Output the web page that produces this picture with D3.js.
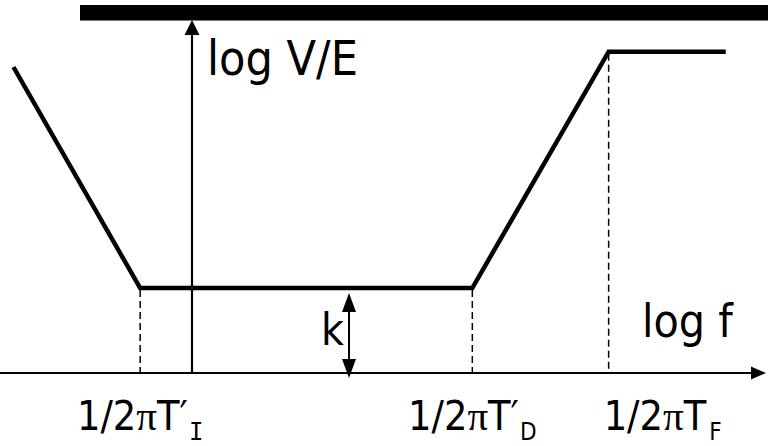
<!DOCTYPE html>
<html>
<head>
<meta charset="utf-8">
<script src="https://cdn.jsdelivr.net/npm/d3@7"></script>
<style>
  html, body { margin: 0; padding: 0; background: #fff; }
  svg { display: block; }
  text { font-family: "DejaVu Sans Condensed", "DejaVu Sans", sans-serif; font-stretch: condensed; fill: #000; }
</style>
</head>
<body>
<svg id="chart" width="768" height="446"></svg>
<script>
// Asymptotic magnitude curve of a PID controller (log V/E against log f)
const curveLogF  = [-0.93, -0.27, 1.46, 2.17, 2.78];
const curveLogVE = [3.60, 1.00, 1.00, 3.78, 3.78];

// Corner frequencies marked on the frequency axis
const cornerLogF   = [-0.27, 1.46, 2.17];
const cornerMain   = ["1/2", "1/2", "1/2"];
const cornerSymbol = ["T\u2032", "T\u2032", "T"];
const cornerSub    = ["I", "D", "F"];

const gainLevel = 1.0;   // k
const gainLabel = "k";
const yAxisLabel = "log V/E";
const xAxisLabel = "log f";

const svg = d3.select("#chart");
const W = 768, H = 446;

const x = d3.scaleLinear().domain([-1, 3]).range([0, W]);
const y = d3.scaleLinear().domain([0, 1]).range([373, 288]);

// header bar
svg.append("rect").attr("x", 80).attr("y", 5).attr("width", W - 80).attr("height", 15.5).attr("fill", "#000");

// frequency axis with arrow
const y0 = y(0);
svg.append("line").attr("x1", 0).attr("x2", 754).attr("y1", y0).attr("y2", y0)
  .attr("stroke", "#000").attr("stroke-width", 2.2);
svg.append("path").attr("d", `M766,${y0} L751,${y0 - 6.5} L751,${y0 + 6.5} Z`).attr("fill", "#000");

// magnitude axis with arrow
const x0 = x(0);
svg.append("line").attr("x1", x0).attr("x2", x0).attr("y1", y0).attr("y2", 32)
  .attr("stroke", "#000").attr("stroke-width", 2.2);
svg.append("path").attr("d", `M${x0},20 L${x0 - 7.5},35 L${x0 + 7.5},35 Z`).attr("fill", "#000");

// dashed drop lines from the corners
svg.selectAll("line.drop").data(cornerLogF).join("line").attr("class", "drop")
  .attr("x1", d => x(d)).attr("x2", d => x(d))
  .attr("y1", (d, i) => y(i === 2 ? curveLogVE[3] : gainLevel) + 2)
  .attr("y2", y0)
  .attr("stroke", "#000").attr("stroke-width", 1.5).attr("stroke-dasharray", "7,4");

// asymptotic curve
const line = d3.line().x(d => x(d[0])).y(d => y(d[1]));
svg.append("path").datum(d3.zip(curveLogF, curveLogVE)).attr("d", line)
  .attr("fill", "none").attr("stroke", "#000").attr("stroke-width", 4.5)
  .attr("stroke-linejoin", "miter").attr("stroke-linecap", "butt");

// k double arrow
const kx = 349;
const kTop = y(gainLevel) + 5, kBot = y0 + 5;
svg.append("line").attr("x1", kx).attr("x2", kx).attr("y1", kTop + 15).attr("y2", kBot - 15)
  .attr("stroke", "#000").attr("stroke-width", 2);
svg.append("path").attr("d", `M${kx},${kTop} L${kx - 7},${kTop + 19} L${kx + 7},${kTop + 19} Z`).attr("fill", "#000");
svg.append("path").attr("d", `M${kx},${kBot} L${kx - 7},${kBot - 19} L${kx + 7},${kBot - 19} Z`).attr("fill", "#000");
svg.append("text").attr("x", 321).attr("y", 345).attr("font-size", 44).text(gainLabel);

// axis titles
svg.append("text").attr("x", 207).attr("y", 75).attr("font-size", 48).text(yAxisLabel);
svg.append("text").attr("x", 642).attr("y", 337).attr("font-size", 46).text(xAxisLabel);

// corner frequency labels
const anchors = ["middle", "middle", "start"];
const shifts = [0, 0, -5];
cornerLogF.forEach((v, i) => {
  const t = svg.append("text")
    .attr("x", x(v) + shifts[i]).attr("y", 430)
    .attr("font-size", 41).attr("text-anchor", anchors[i]);
  t.append("tspan").text(cornerMain[i]);
  t.append("tspan").attr("font-family", "'Liberation Serif', 'DejaVu Serif', serif").text("\u03c0");
  t.append("tspan").text(cornerSymbol[i]);
  t.append("tspan").attr("font-size", 24).attr("dy", 10)
    .attr("dx", i === 2 ? 3 : 1)
    .attr("font-family", i === 0 ? "'DejaVu Sans Mono', monospace" : null)
    .text(cornerSub[i]);
});
</script>
</body>
</html>
